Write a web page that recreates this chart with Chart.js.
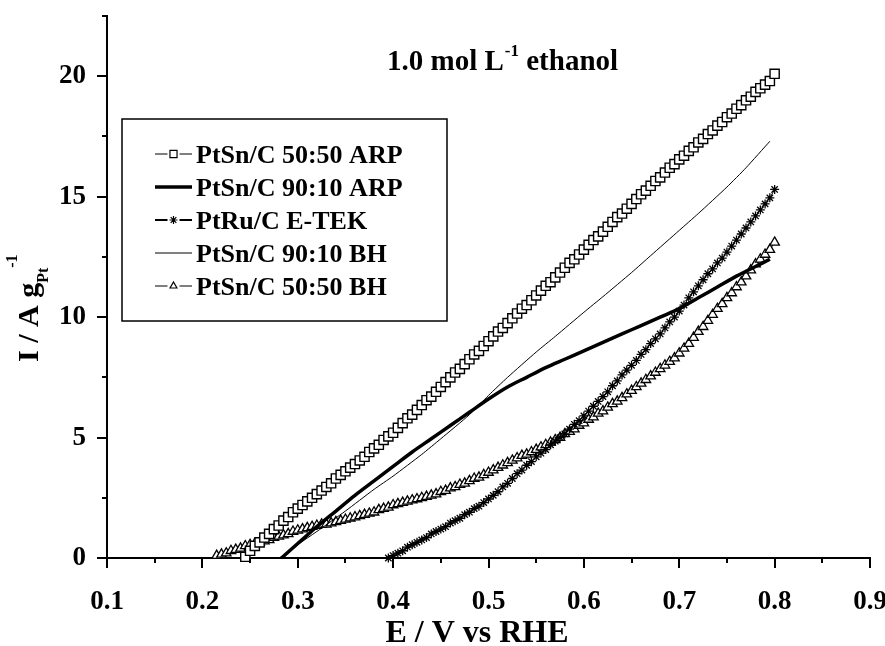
<!DOCTYPE html>
<html>
<head>
<meta charset="utf-8">
<script src="https://cdn.jsdelivr.net/npm/chart.js@4.4.0/dist/chart.umd.min.js"></script>
<style>
  body { margin: 0; background: #fff; }
  canvas { display: block; }
</style>
</head>
<body>
<canvas id="chart" width="885" height="646"></canvas>
<script>
// potential grid (V vs RHE) shared by the three marker series
const potential = [
  0.215, 0.22, 0.225, 0.23, 0.235, 0.24, 0.245, 0.25, 0.255, 0.26,
  0.265, 0.27, 0.275, 0.28, 0.285, 0.29, 0.295, 0.3, 0.305, 0.31,
  0.315, 0.32, 0.325, 0.33, 0.335, 0.34, 0.345, 0.35, 0.355, 0.36,
  0.365, 0.37, 0.375, 0.38, 0.385, 0.39, 0.395, 0.4, 0.405, 0.41,
  0.415, 0.42, 0.425, 0.43, 0.435, 0.44, 0.445, 0.45, 0.455, 0.46,
  0.465, 0.47, 0.475, 0.48, 0.485, 0.49, 0.495, 0.5, 0.505, 0.51,
  0.515, 0.52, 0.525, 0.53, 0.535, 0.54, 0.545, 0.55, 0.555, 0.56,
  0.565, 0.57, 0.575, 0.58, 0.585, 0.59, 0.595, 0.6, 0.605, 0.61,
  0.615, 0.62, 0.625, 0.63, 0.635, 0.64, 0.645, 0.65, 0.655, 0.66,
  0.665, 0.67, 0.675, 0.68, 0.685, 0.69, 0.695, 0.7, 0.705, 0.71,
  0.715, 0.72, 0.725, 0.73, 0.735, 0.74, 0.745, 0.75, 0.755, 0.76,
  0.765, 0.77, 0.775, 0.78, 0.785, 0.79, 0.795, 0.8
]

// PtSn/C 50:50 ARP (squares)
const curSn5050ARP = [
  null, null, null, null, null, null, 0.05, 0.3, 0.5, 0.65,
  0.85, 1.0, 1.2, 1.35, 1.55, 1.7, 1.9, 2.05, 2.2, 2.35,
  2.5, 2.65, 2.8, 2.95, 3.1, 3.3, 3.45, 3.6, 3.75, 3.9,
  4.05, 4.2, 4.4, 4.55, 4.7, 4.9, 5.05, 5.2, 5.4, 5.6,
  5.8, 5.95, 6.15, 6.35, 6.55, 6.7, 6.9, 7.1, 7.3, 7.5,
  7.7, 7.85, 8.05, 8.25, 8.45, 8.6, 8.8, 9.0, 9.2, 9.4,
  9.55, 9.75, 9.95, 10.15, 10.35, 10.5, 10.7, 10.9, 11.1, 11.3,
  11.45, 11.65, 11.85, 12.05, 12.25, 12.4, 12.6, 12.8, 13.0, 13.2,
  13.35, 13.55, 13.75, 13.95, 14.15, 14.3, 14.5, 14.7, 14.9, 15.1,
  15.25, 15.45, 15.65, 15.8, 16.0, 16.2, 16.35, 16.55, 16.7, 16.9,
  17.05, 17.25, 17.4, 17.6, 17.75, 17.95, 18.1, 18.3, 18.45, 18.65,
  18.8, 19.0, 19.15, 19.35, 19.5, 19.65, 19.8, 20.1
]

// PtRu/C E-TEK (asterisks)
const curRuETEK = [
  null, null, null, null, null, null, null, null, null, null,
  null, null, null, null, null, null, null, null, null, null,
  null, null, null, null, null, null, null, null, null, null,
  null, null, null, null, null, null, 0.0, 0.1, 0.2, 0.3,
  0.45, 0.55, 0.65, 0.75, 0.85, 1.0, 1.1, 1.2, 1.3, 1.45,
  1.55, 1.65, 1.8, 1.9, 2.05, 2.15, 2.3, 2.45, 2.6, 2.75,
  2.95, 3.1, 3.3, 3.5, 3.65, 3.85, 4.0, 4.2, 4.35, 4.5,
  4.7, 4.85, 5.0, 5.15, 5.35, 5.55, 5.7, 5.9, 6.1, 6.3,
  6.5, 6.7, 6.9, 7.15, 7.35, 7.6, 7.8, 8.0, 8.2, 8.45,
  8.65, 8.9, 9.1, 9.3, 9.55, 9.8, 10.0, 10.25, 10.5, 10.8,
  11.05, 11.3, 11.55, 11.8, 12.0, 12.25, 12.45, 12.7, 12.95, 13.2,
  13.45, 13.7, 13.95, 14.2, 14.45, 14.7, 14.95, 15.3
]

// PtSn/C 50:50 BH (triangles)
const curSn5050BH = [
  0.1, 0.15, 0.2, 0.3, 0.35, 0.4, 0.5, 0.55, 0.6, 0.65,
  0.7, 0.75, 0.85, 0.9, 0.95, 1.0, 1.1, 1.15, 1.2, 1.25,
  1.3, 1.35, 1.4, 1.4, 1.45, 1.5, 1.55, 1.6, 1.65, 1.7,
  1.75, 1.8, 1.85, 1.9, 2.0, 2.05, 2.1, 2.2, 2.25, 2.3,
  2.35, 2.4, 2.45, 2.5, 2.55, 2.6, 2.65, 2.75, 2.8, 2.9,
  2.95, 3.05, 3.1, 3.2, 3.3, 3.35, 3.45, 3.55, 3.65, 3.75,
  3.85, 3.95, 4.05, 4.15, 4.25, 4.3, 4.4, 4.5, 4.6, 4.7,
  4.8, 4.9, 5.0, 5.15, 5.25, 5.35, 5.5, 5.6, 5.75, 5.85,
  6.0, 6.1, 6.25, 6.4, 6.5, 6.65, 6.8, 6.95, 7.1, 7.25,
  7.4, 7.55, 7.7, 7.85, 8.0, 8.15, 8.3, 8.5, 8.7, 8.9,
  9.15, 9.4, 9.6, 9.85, 10.1, 10.35, 10.55, 10.8, 11.0, 11.25,
  11.45, 11.7, 11.95, 12.2, 12.4, 12.6, 12.8, 13.1
]

// PtSn/C 90:10 ARP (thick line)
const potSn9010ARP = [0.283, 0.29, 0.3, 0.31, 0.32, 0.34, 0.36, 0.38, 0.4, 0.42, 0.44, 0.46,
  0.48, 0.5, 0.52, 0.54, 0.56, 0.58, 0.6, 0.62, 0.64, 0.66, 0.68, 0.7, 0.72, 0.74, 0.76, 0.78, 0.795]
const curSn9010ARP = [0, 0.25, 0.6, 0.95, 1.3, 1.95, 2.6, 3.2, 3.8, 4.4, 4.95, 5.5,
  6.05, 6.6, 7.1, 7.5, 7.9, 8.25, 8.6, 8.95, 9.3, 9.65, 10.0, 10.35, 10.8, 11.25, 11.7, 12.1, 12.4]

// PtSn/C 90:10 BH (thin line)
const potSn9010BH = [0.28, 0.29, 0.3, 0.32, 0.35, 0.38, 0.4, 0.43, 0.45, 0.48, 0.5, 0.52,
  0.55, 0.57, 0.6, 0.62, 0.65, 0.67, 0.7, 0.72, 0.75, 0.77, 0.795]
const curSn9010BH = [0, 0.2, 0.55, 1.1, 1.95, 2.85, 3.4, 4.3, 4.95, 5.95, 6.75, 7.5,
  8.55, 9.2, 10.2, 10.85, 11.85, 12.55, 13.6, 14.3, 15.4, 16.2, 17.3]

const seriesLabels = ["PtSn/C 50:50 ARP", "PtSn/C 90:10 ARP", "PtRu/C E-TEK", "PtSn/C 90:10 BH", "PtSn/C 50:50 BH"]
const xMajorTicks = ["0.1", "0.2", "0.3", "0.4", "0.5", "0.6", "0.7", "0.8", "0.9"]
const yMajorTicks = ["0", "5", "10", "15", "20"]

function pairs(xs, ys) {
  return xs.map((x, i) => ({x: x, y: ys[i]})).filter(p => p.y !== null)
}

const FONT = "'Liberation Serif', 'Times New Roman', serif"

function drawMarker(ctx, style, x, y, r) {
  ctx.beginPath()
  if (style === "rect") {
    const s = r * Math.SQRT1_2
    ctx.rect(x - s, y - s, 2 * s, 2 * s)
    ctx.fill(); ctx.stroke()
  } else if (style === "triangle") {
    ctx.moveTo(x, y - r)
    ctx.lineTo(x + r * 0.866, y + r * 0.5)
    ctx.lineTo(x - r * 0.866, y + r * 0.5)
    ctx.closePath()
    ctx.fill(); ctx.stroke()
  } else if (style === "star") {
    for (let k = 0; k < 4; k++) {
      const a = k * Math.PI / 4
      ctx.moveTo(x - Math.cos(a) * r, y - Math.sin(a) * r)
      ctx.lineTo(x + Math.cos(a) * r, y + Math.sin(a) * r)
    }
    ctx.stroke()
  }
}

const decorations = {
  id: "decorations",
  afterDraw(chart) {
    const ctx = chart.ctx
    const xs = chart.scales.x
    const ys = chart.scales.y
    const area = chart.chartArea
    ctx.save()

    // tick marks, outward
    ctx.strokeStyle = "#000"
    ctx.lineWidth = 2
    ctx.beginPath()
    xs.ticks.forEach(t => {
      const px = Math.round(xs.getPixelForValue(t.value))
      const len = xMajorTicks.includes(t.label) ? 10 : 5
      ctx.moveTo(px, area.bottom)
      ctx.lineTo(px, area.bottom + len)
    })
    ys.ticks.forEach(t => {
      const py = Math.round(ys.getPixelForValue(t.value))
      const len = yMajorTicks.includes(t.label) ? 10 : 5
      ctx.moveTo(area.left, py)
      ctx.lineTo(area.left - len, py)
    })
    ctx.stroke()

    ctx.fillStyle = "#000"
    // x title
    ctx.font = "bold 32px " + FONT
    ctx.textAlign = "center"
    ctx.textBaseline = "alphabetic"
    ctx.fillText("E / V vs RHE", 477, 642)

    // y title with sub/superscript
    ctx.save()
    ctx.translate(38, 362)
    ctx.rotate(-Math.PI / 2)
    ctx.textAlign = "left"
    ctx.font = "bold 30px " + FONT
    ctx.fillText("I / A g", 0, 0)
    let w = ctx.measureText("I / A g").width
    ctx.font = "bold 16px " + FONT
    ctx.fillText("Pt", w, 10)
    w += ctx.measureText("Pt").width
    ctx.fillText("-1", w, -21)
    ctx.restore()

    // inner title
    ctx.textAlign = "left"
    ctx.font = "bold 29px " + FONT
    let tx = 387
    ctx.fillText("1.0 mol L", tx, 70)
    tx += ctx.measureText("1.0 mol L").width
    ctx.font = "bold 17px " + FONT
    ctx.fillText("-1", tx + 1, 56)
    tx += ctx.measureText("-1").width + 1
    ctx.font = "bold 29px " + FONT
    ctx.fillText(" ethanol", tx, 70)

    // legend
    ctx.fillStyle = "#fff"
    ctx.fillRect(122, 119, 325, 202)
    ctx.lineWidth = 1.5
    ctx.strokeStyle = "#000"
    ctx.strokeRect(122, 119, 325, 202)
    const rows = [154, 187, 220, 253, 286]
    chart.data.datasets.forEach((ds, i) => {
      const ry = rows[i]
      ctx.lineWidth = ds.legendLineWidth
      ctx.beginPath()
      ctx.moveTo(155, ry)
      ctx.lineTo(192, ry)
      ctx.stroke()
      if (ds.pointRadius > 0) {
        ctx.lineWidth = 1.2
        ctx.fillStyle = "#fff"
        const mx = 173.5
        ctx.fillRect(mx - 6, ry - 5, 12, 10)
        drawMarker(ctx, ds.pointStyle, mx, ry, ds.pointStyle === "rect" ? 5 : 4)
      }
      ctx.fillStyle = "#000"
      ctx.font = "bold 26px " + FONT
      ctx.textAlign = "left"
      ctx.fillText(ds.label, 196, ry + 9)
    })
    ctx.restore()
  }
}

new Chart(document.getElementById("chart"), {
  type: "scatter",
  data: {
    datasets: [
      {
        label: seriesLabels[0],
        data: pairs(potential, curSn5050ARP),
        showLine: true,
        borderColor: "#000",
        borderWidth: 1,
        pointStyle: "rect",
        pointRadius: 6.5,
        pointBorderWidth: 1.4,
        pointBackgroundColor: "#fff",
        pointBorderColor: "#000",
        legendLineWidth: 1,
        clip: false
      },
      {
        label: seriesLabels[1],
        data: pairs(potSn9010ARP, curSn9010ARP),
        showLine: true,
        borderColor: "#000",
        borderWidth: 3.5,
        tension: 0.3,
        pointRadius: 0,
        legendLineWidth: 3.5,
        clip: false
      },
      {
        label: seriesLabels[2],
        data: pairs(potential, curRuETEK),
        showLine: true,
        borderColor: "#000",
        borderWidth: 1,
        pointStyle: "star",
        pointRadius: 4.5,
        pointBorderWidth: 1.3,
        pointBorderColor: "#000",
        legendLineWidth: 2,
        clip: false
      },
      {
        label: seriesLabels[3],
        data: pairs(potSn9010BH, curSn9010BH),
        showLine: true,
        borderColor: "#000",
        borderWidth: 1,
        tension: 0.2,
        pointRadius: 0,
        legendLineWidth: 1,
        clip: false
      },
      {
        label: seriesLabels[4],
        data: pairs(potential, curSn5050BH),
        showLine: true,
        borderColor: "#000",
        borderWidth: 1,
        pointStyle: "triangle",
        pointRadius: 5.5,
        pointBorderWidth: 1.3,
        pointBackgroundColor: "#fff",
        pointBorderColor: "#000",
        legendLineWidth: 1,
        clip: false
      }
    ]
  },
  options: {
    responsive: false,
    animation: false,
    layout: {padding: {top: 16, right: 15, left: 0, bottom: 0}},
    plugins: {legend: {display: false}, tooltip: {enabled: false}},
    scales: {
      x: {
        type: "linear",
        min: 0.1,
        max: 0.9,
        grid: {display: false},
        border: {display: true, color: "#000", width: 2},
        ticks: {
          stepSize: 0.05,
          autoSkip: false,
          maxTicksLimit: 100,
          maxRotation: 0,
          padding: 20,
          color: "#000",
          font: {family: FONT, weight: "bold", size: 27},
          callback: v => {
            const s = (Math.round(v * 100) / 100).toFixed(1)
            return Math.round(v * 100) % 10 === 0 && xMajorTicks.includes(s) ? s : ""
          }
        },
        afterFit: s => { s.height = 88; s.paddingLeft = 0; s.paddingRight = 0 }
      },
      y: {
        min: 0,
        max: 22.5,
        grid: {display: false},
        border: {display: true, color: "#000", width: 2},
        ticks: {
          stepSize: 2.5,
          autoSkip: false,
          padding: 13,
          color: "#000",
          font: {family: FONT, weight: "bold", size: 27},
          callback: v => yMajorTicks.includes(String(v)) ? String(v) : ""
        },
        afterFit: s => { s.width = 107; s.paddingTop = 0; s.paddingBottom = 0 }
      }
    }
  },
  plugins: [decorations]
})
</script>
</body>
</html>
